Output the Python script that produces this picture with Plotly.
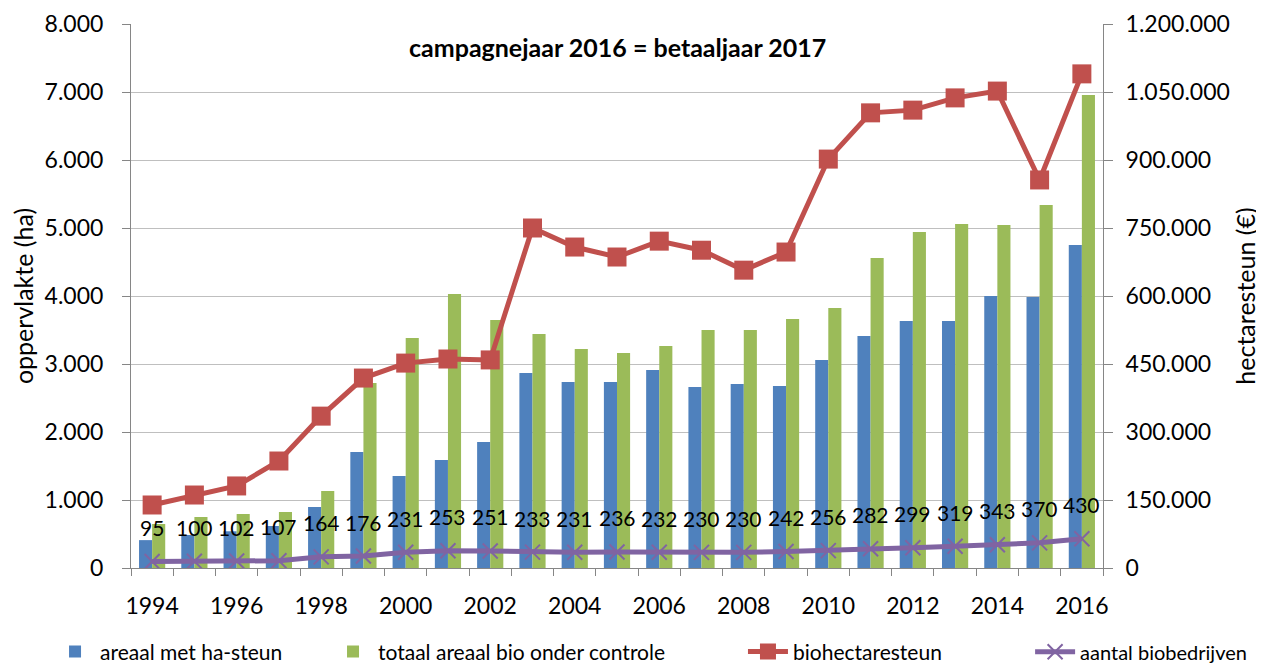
import plotly.graph_objects as go

years = list(range(1994, 2017))
areaal_ha_steun = [410, 485, 540, 618, 897, 1706, 1353, 1588, 1853, 2868, 2735, 2735,
                   2912, 2662, 2706, 2676, 3059, 3412, 3632, 3632, 4000, 3985, 4750]
totaal_areaal_bio = [647, 750, 794, 824, 1132, 2720, 3382, 4029, 3647, 3441, 3220, 3162,
                     3265, 3500, 3500, 3662, 3824, 4559, 4941, 5059, 5044, 5338, 6956]
biohectaresteun = [139000, 161000, 181000, 236000, 335000, 419000, 452000, 461000, 459000,
                   750000, 708000, 686000, 721000, 701000, 657000, 697000, 902000, 1004000,
                   1010000, 1037000, 1052000, 856000, 1090000]
aantal_biobedrijven = [95, 100, 102, 107, 164, 176, 231, 253, 251, 233, 231, 236, 232, 230,
                       230, 242, 256, 282, 299, 319, 343, 370, 430]

FONT = "Lato"
BLUE = "#4F81BD"
GREEN = "#9BBB59"
RED = "#C0504D"
PURPLE = "#8064A2"
AXIS = "#868686"
GRID = "#BFBFBF"

fig = go.Figure()
fig.add_trace(go.Bar(x=years, y=areaal_ha_steun, name="areaal met ha-steun", legend="legend",
                     marker=dict(color=BLUE, line=dict(width=0))))
fig.add_trace(go.Bar(x=years, y=totaal_areaal_bio, name="totaal areaal bio onder controle",
                     legend="legend2", marker=dict(color=GREEN, line=dict(width=0))))
fig.add_trace(go.Scatter(x=years, y=biohectaresteun, name="biohectaresteun", yaxis="y2",
                         legend="legend3",
                         mode="lines+markers", line=dict(color=RED, width=5),
                         marker=dict(symbol="square", size=19, color=RED)))
fig.add_trace(go.Scatter(x=years, y=aantal_biobedrijven, name="aantal biobedrijven",
                         legend="legend4",
                         mode="lines+markers", line=dict(color=PURPLE, width=5),
                         marker=dict(symbol="x-thin", size=15,
                                     line=dict(color=PURPLE, width=2))))

for yr, v in zip(years, aantal_biobedrijven):
    fig.add_annotation(x=yr, y=v, text=str(v), showarrow=False, yshift=34,
                       font=dict(family=FONT, size=21, color="#000000"))

fig.add_annotation(x=0.5, y=1, xref="paper", yref="paper", yanchor="middle",
                   yshift=-23, text="<b>campagnejaar 2016 = betaaljaar 2017</b>",
                   showarrow=False, font=dict(family=FONT, size=25, color="#000000"))

LEG_Y = -0.154


def leg(x):
    return dict(orientation="h", x=x, xanchor="left", y=LEG_Y, yanchor="middle",
                font=dict(family=FONT, size=21), itemwidth=40, bgcolor="rgba(0,0,0,0)")


legend4 = leg(0.9250)
legend4["font"] = dict(family=FONT, size=20)

fig.update_layout(
    width=1256, height=657,
    margin=dict(l=123, r=161, t=16, b=97, autoexpand=False),
    paper_bgcolor="white", plot_bgcolor="white",
    separators=",.",
    barmode="group", bargap=0.38, bargroupgap=0,
    font=dict(family=FONT, size=22, color="#000000"),
    showlegend=True,
    legend=leg(-0.0833),
    legend2=leg(0.2027),
    legend3=leg(0.6296),
    legend4=legend4,
    xaxis=dict(range=[1993.5, 2016.5], tickmode="linear", tick0=1994, dtick=2,
               ticks="", showgrid=False, showline=True, linecolor=AXIS, linewidth=1,
               ticklabelstandoff=17,
               minor=dict(tickmode="linear", tick0=1993.5, dtick=1, ticks="outside",
                          ticklen=7, tickcolor=AXIS, showgrid=False),
               tickfont=dict(family=FONT, size=23)),
    yaxis=dict(range=[0, 8000], dtick=1000, tickformat=",d", showgrid=True,
               gridcolor=GRID, gridwidth=1, showline=True, linecolor=AXIS,
               ticks="outside", ticklen=8, tickcolor=AXIS, zeroline=False,
               ticklabelstandoff=14,
               title=dict(text="oppervlakte (ha)", standoff=10,
                          font=dict(family=FONT, size=25)),
               tickfont=dict(family=FONT, size=23)),
    yaxis2=dict(range=[0, 1200000], dtick=150000, tickformat=",d", overlaying="y",
                side="right", showgrid=False, showline=True, linecolor=AXIS,
                ticks="outside", ticklen=9, tickcolor=AXIS, zeroline=False,
                ticklabelstandoff=8,
                title=dict(text="hectaresteun (€)", standoff=8,
                           font=dict(family=FONT, size=25)),
                tickfont=dict(family=FONT, size=23)),
)

fig.write_html("out.html")
